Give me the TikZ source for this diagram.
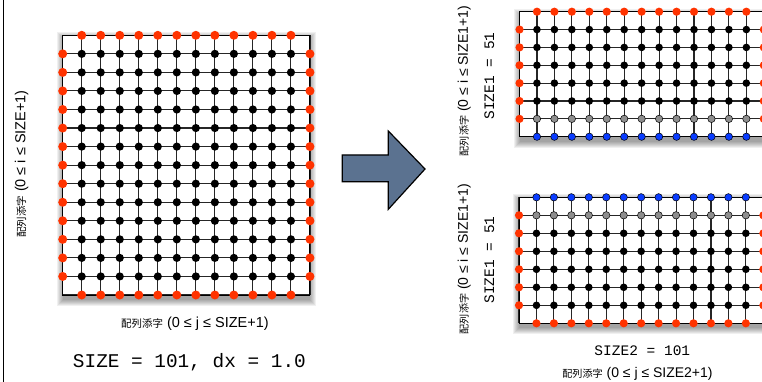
\documentclass[tikz,border=0pt]{standalone}
\usepackage{fontspec}
\setmainfont{Liberation Sans}
\newfontfamily\cjk{Noto Sans CJK JP}[Scale=0.72]
\newfontfamily\mono{Liberation Mono}
\definecolor{dotred}{HTML}{FF3300}
\definecolor{dotblue}{HTML}{0A3CFF}
\definecolor{dotgray}{HTML}{8E8E8E}
\definecolor{arrowblue}{HTML}{5B7290}
\newcommand\drawgrid[6]{%
  \pgfmathsetmacro\gxa{#1}\pgfmathsetmacro\gya{#2}%
  \pgfmathsetmacro\gxb{#1+#3*#5}\pgfmathsetmacro\gyb{#2+#4*#6}%
  \foreach \k in {1,...,7}{\fill[black,opacity=0.06] (\gxa-\k+1,\gya+3-\k+1) rectangle (\gxb+\k-1,\gyb+4+\k);}
  \fill[white] (\gxa,\gya) rectangle (\gxb,\gyb);
  \foreach \i in {0,...,#6}{\draw[gridline] (\gxa,#2+\i*#4) -- (\gxb,#2+\i*#4);}
  \foreach \j in {0,...,#5}{\draw[gridline] (#1+\j*#3,\gya) -- (#1+\j*#3,\gyb);}
  \draw[gridborder] (\gxa,\gya) rectangle (\gxb,\gyb);
}
% y, x0, dx, from, to, style
\newcommand\dotrow[6]{\foreach \j in {#4,...,#5}{\path[#6] (#2+\j*#3,#1) circle;}}
\begin{document}
\begin{tikzpicture}[x=1pt,y=-1pt,
  gridline/.style={draw=black!85,line width=1.1pt},
  gridborder/.style={draw=black,line width=1pt},
  reddot/.style={fill=dotred,radius=4.1},
  blackdot/.style={fill=black,radius=3.8},
  bigred/.style={fill=dotred,radius=4.5},
  bigblack/.style={fill=black,radius=4.1},
  graydot/.style={fill=dotgray,draw=black,line width=0.5pt,radius=3.7},
  bluedot/.style={fill=dotblue,draw=black,line width=0.5pt,radius=3.7},
  lbl/.style={inner sep=0pt,font=\fontsize{14.5}{17}\selectfont},
  lblr/.style={inner sep=0pt,font=\fontsize{14}{17}\selectfont},
  monobig/.style={inner sep=0pt,font=\mono\fontsize{19.4}{22}\selectfont},
  monosmall/.style={inner sep=0pt,font=\mono\fontsize{14.5}{17}\selectfont},
  bigarrow/.style={fill=arrowblue,draw=black,line width=1.2pt,line join=miter}
]
\useasboundingbox (0,0) rectangle (762,382);
\clip (0,0) rectangle (762,382);
\fill[white] (0,0) rectangle (762,382);
\draw[line width=1pt] (3.3,0) -- (3.3,382);

% ---- left grid
\drawgrid{62.7}{35.3}{19.02}{18.55}{13}{14}
\dotrow{35.3}{62.7}{19.02}{1}{12}{bigred}
\dotrow{295}{62.7}{19.02}{1}{12}{bigred}
\foreach \i in {1,...,13}{
  \dotrow{35.3+\i*18.55}{62.7}{19.02}{1}{12}{bigblack}
  \dotrow{35.3+\i*18.55}{62.7}{19.02}{0}{0}{bigred}
  \dotrow{35.3+\i*18.55}{62.7}{19.02}{13}{13}{bigred}
}

% ---- top right grid
\drawgrid{519.5}{11.7}{17.45}{17.86}{14}{7}
\dotrow{11.7}{519.5}{17.45}{1}{13}{reddot}
\foreach \i in {1,...,5}{
  \dotrow{11.7+\i*17.86}{519.5}{17.45}{1}{13}{blackdot}
}
\dotrow{11.7+6*17.86}{519.5}{17.45}{1}{13}{graydot}
\foreach \i in {1,...,6}{
  \dotrow{11.7+\i*17.86}{519.5}{17.45}{0}{0}{reddot}
  \dotrow{11.7+\i*17.86}{519.5}{17.45}{14}{14}{reddot}
}
\dotrow{11.7+7*17.86}{519.5}{17.45}{1}{13}{bluedot}

% ---- bottom right grid
\drawgrid{519}{197.3}{17.45}{18}{14}{7}
\dotrow{197.3}{519}{17.45}{1}{13}{bluedot}
\dotrow{197.3+18}{519}{17.45}{1}{13}{graydot}
\foreach \i in {2,...,6}{
  \dotrow{197.3+\i*18}{519}{17.45}{1}{13}{blackdot}
}
\foreach \i in {1,...,6}{
  \dotrow{197.3+\i*18}{519}{17.45}{0}{0}{reddot}
  \dotrow{197.3+\i*18}{519}{17.45}{14}{14}{reddot}
}
\dotrow{197.3+7*18}{519}{17.45}{1}{13}{reddot}

% ---- arrow
\draw[bigarrow] (342.3,155) -- (388.3,155) -- (388.3,131) -- (425,169)
  -- (388.3,209.3) -- (388.3,181.7) -- (342.3,181.7) -- cycle;

% ---- labels
\node[lbl,rotate=90] (lefti) at (21.7,164) {{\cjk 配列添字} (0 ≤ i ≤ SIZE+1)};
\node[lbl] (leftj) at (195,323.5) {{\cjk 配列添字} (0 ≤ j ≤ SIZE+1)};
\node[monobig] (leftsize) at (189.4,362) {SIZE = 101, dx = 1.0};

\node[lblr,rotate=90] (topi) at (464.3,81) {{\cjk 配列添字} (0 ≤ i ≤ SIZE1+1)};
\node[monosmall,rotate=90] (topsize) at (489.3,76) {SIZE1 = 51};
\node[lblr,rotate=90] (boti) at (464.3,259) {{\cjk 配列添字} (0 ≤ i ≤ SIZE1+1)};
\node[monosmall,rotate=90] (botsize) at (489.3,260) {SIZE1 = 51};
\node[monosmall] (size2) at (642.3,350.7) {SIZE2 = 101};
\node[lblr] (botj) at (637.5,374) {{\cjk 配列添字} (0 ≤ j ≤ SIZE2+1)};
\end{tikzpicture}
\end{document}
